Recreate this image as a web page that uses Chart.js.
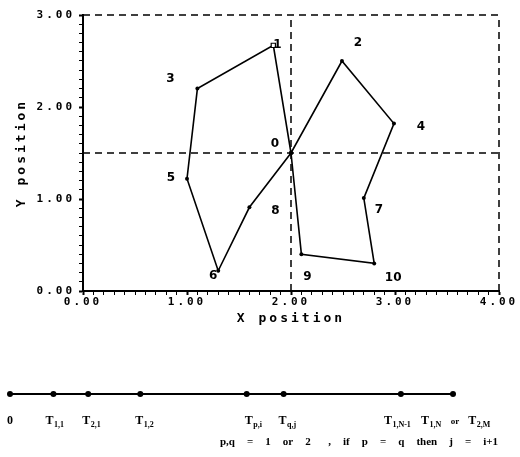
<!DOCTYPE html>
<html>
<head>
<meta charset="utf-8">
<script src="https://cdn.jsdelivr.net/npm/chart.js@4.4.0/dist/chart.umd.min.js"></script>
<style>
  html, body { margin: 0; padding: 0; background: #fff; }
  #wrap { position: relative; width: 520px; height: 457px; }
  #plot { position: absolute; left: 0; top: 0; }
  #line { position: absolute; left: 0; top: 330px; }
</style>
</head>
<body>
<div id="wrap">
  <canvas id="plot" width="520" height="330"></canvas>
  <canvas id="line" width="520" height="127"></canvas>
</div>
<script>
// vertex positions, index = vertex number
const pointX = [2.00, 1.83, 2.49, 1.10, 2.99, 1.00, 1.30, 2.70, 1.60, 2.10, 2.80];
const pointY = [1.50, 2.67, 2.50, 2.20, 1.82, 1.22, 0.22, 1.01, 0.91, 0.40, 0.30];
const pointNames = ["0", "1", "2", "3", "4", "5", "6", "7", "8", "9", "10"];
// order in which the path visits the vertices
const pathOrder = [0, 1, 3, 5, 6, 8, 0, 2, 4, 7, 10, 9, 0];

const xTicks = [0, 1, 2, 3, 4];
const yTicks = [0, 1, 2, 3];
const splitX = 2.0;
const splitY = 1.5;

// time line below the plot
const timeValues = [0, 1.0, 1.8, 3.0, 5.45, 6.3, 9.0, 10.2];
const timeLabels = [
  [["0", ""]],
  [["T", "1,1"]],
  [["T", "2,1"]],
  [["T", "1,2"]],
  [["T", "p,i"]],
  [["T", "q,j"]],
  [["T", "1,N-1"]],
  [["T", "1,N"], ["or", ""], ["T", "2,M"]]
];
const timeCaption = ["p,q", "=", "1", "or", "2", "  ,", "if", "p", "=", "q", "then", "j", "=", "i+1"];

// label placement (pixels)
const nameShift = [[-16, -9], [4, 0], [16, -18], [-27, -10], [27, 3], [-16, -1],
                   [-5, 5], [15, 12], [26, 4], [6, 23], [19, 14]];
const timeShift = [-3, -8, -6, -5, -2, -5, -17, -32];

const xMin = xTicks[0], xMax = xTicks[xTicks.length - 1];
const yMin = yTicks[0], yMax = yTicks[yTicks.length - 1];
const isMajor = (list, v) => list.some(t => Math.abs(t - v) < 1e-6);

const pathData = pathOrder.map(i => ({ x: pointX[i], y: pointY[i] }));

const dash = {
  showLine: true,
  borderColor: "#000",
  borderWidth: 1.5,
  borderDash: [7, 5],
  pointRadius: 0,
  clip: false
};

const axisFont = { family: "DejaVu Sans Mono", size: 11, weight: "bold" };
const titleFont = { family: "DejaVu Sans Mono", size: 13, weight: "bold" };

const spacing = {
  id: "spacing",
  beforeDraw(chart) { chart.ctx.letterSpacing = "3px"; },
  afterDraw(chart) { chart.ctx.letterSpacing = "0px"; }
};

const pointNumbers = {
  id: "pointNumbers",
  afterDatasetsDraw(chart) {
    const ctx = chart.ctx;
    const xs = chart.scales.x, ys = chart.scales.y;
    ctx.save();
    ctx.letterSpacing = "0px";
    ctx.fillStyle = "#000";
    ctx.font = 'bold 12px "DejaVu Sans"';
    ctx.textAlign = "center";
    ctx.textBaseline = "middle";
    pointNames.forEach((name, i) => {
      const px = xs.getPixelForValue(pointX[i]) + nameShift[i][0];
      const py = ys.getPixelForValue(pointY[i]) + nameShift[i][1];
      ctx.fillText(name, px, py);
    });
    ctx.restore();
  }
};

new Chart(document.getElementById("plot"), {
  type: "scatter",
  data: {
    datasets: [
      {
        data: pathData,
        showLine: true,
        borderColor: "#000",
        borderWidth: 1.6,
        pointRadius: c => (pathOrder[c.dataIndex] === 1 ? 3 : 2),
        pointStyle: c => (pathOrder[c.dataIndex] === 1 ? "rect" : "circle"),
        pointBackgroundColor: c => (pathOrder[c.dataIndex] === 1 ? "#fff" : "#000"),
        pointBorderColor: "#000",
        pointBorderWidth: c => (pathOrder[c.dataIndex] === 1 ? 1.2 : 0),
        clip: false
      },
      Object.assign({ data: [{ x: xMin, y: splitY }, { x: xMax, y: splitY }] }, dash),
      Object.assign({ data: [{ x: splitX, y: yMin }, { x: splitX, y: yMax }] }, dash),
      Object.assign({ data: [{ x: xMin, y: yMax }, { x: xMax, y: yMax }] }, dash),
      Object.assign({ data: [{ x: xMax, y: yMin }, { x: xMax, y: yMax }] }, dash)
    ]
  },
  options: {
    responsive: false,
    animation: false,
    events: [],
    layout: { padding: { top: 15, right: 21, bottom: 0, left: 0 } },
    plugins: { legend: { display: false }, tooltip: { enabled: false } },
    scales: {
      x: {
        type: "linear",
        min: xMin,
        max: xMax,
        border: { display: true, color: "#000", width: 2 },
        grid: {
          display: true,
          drawOnChartArea: false,
          drawTicks: true,
          tickLength: 4,
          tickColor: "#000",
          tickWidth: c => (isMajor(xTicks, c.tick.value) ? 2 : 1)
        },
        ticks: {
          stepSize: 0.1,
          autoSkip: false,
          maxRotation: 0,
          padding: 1,
          color: "#000",
          font: axisFont,
          callback: v => (isMajor(xTicks, v) ? v.toFixed(2) : "")
        },
        title: {
          display: true,
          text: "X position",
          color: "#000",
          font: titleFont,
          padding: { top: 0, bottom: 4 }
        },
        afterFit: s => { s.height = 39; }
      },
      y: {
        type: "linear",
        min: yMin,
        max: yMax,
        border: { display: true, color: "#000", width: 2 },
        grid: {
          display: true,
          drawOnChartArea: false,
          drawTicks: true,
          tickLength: 4,
          tickColor: "#000",
          tickWidth: c => (isMajor(yTicks, c.tick.value) ? 2 : 1)
        },
        ticks: {
          stepSize: 0.1,
          autoSkip: false,
          padding: 4,
          color: "#000",
          font: axisFont,
          callback: v => (isMajor(yTicks, v) ? v.toFixed(2) : "")
        },
        title: {
          display: true,
          text: "Y position",
          color: "#000",
          font: titleFont,
          padding: { top: 14, bottom: 0 }
        },
        afterFit: s => { s.width = 83; }
      }
    }
  },
  plugins: [spacing, pointNumbers]
});

const timelineLabels = {
  id: "timelineLabels",
  afterDraw(chart) {
    const ctx = chart.ctx;
    const xs = chart.scales.x;
    const base = 94;
    ctx.save();
    ctx.fillStyle = "#000";
    ctx.textAlign = "left";
    ctx.textBaseline = "alphabetic";
    timeLabels.forEach((parts, i) => {
      let x = xs.getPixelForValue(timeValues[i]) + timeShift[i];
      parts.forEach(([main, sub], k) => {
        if (k > 0) x += 9;
        ctx.font = main === "or" ? 'bold 9px "Liberation Serif"' : 'bold 12px "Liberation Serif"';
        ctx.fillText(main, x, base);
        x += ctx.measureText(main).width;
        if (sub) {
          ctx.font = 'bold 8px "Liberation Serif"';
          ctx.fillText(sub, x + 0.5, base + 3);
          x += ctx.measureText(sub).width + 1;
        }
      });
    });
    // caption, words spread over the same width as in the source
    ctx.font = 'bold 11px "Liberation Serif"';
    const words = timeCaption.map(t => ctx.measureText(t).width);
    const total = words.reduce((a, b) => a + b, 0);
    const gap = (278 - total) / (timeCaption.length - 1);
    let cx = 220;
    timeCaption.forEach((t, i) => {
      ctx.fillText(t, cx, 115);
      cx += words[i] + gap;
    });
    ctx.restore();
  }
};

new Chart(document.getElementById("line"), {
  type: "scatter",
  data: {
    datasets: [{
      data: timeValues.map(t => ({ x: t, y: 0 })),
      showLine: true,
      borderColor: "#000",
      borderWidth: 2,
      pointRadius: 3,
      pointBackgroundColor: "#000",
      pointBorderWidth: 0,
      clip: false
    }]
  },
  options: {
    responsive: false,
    animation: false,
    events: [],
    layout: { padding: { left: 10, right: 67, top: 44, bottom: 43 } },
    plugins: { legend: { display: false }, tooltip: { enabled: false } },
    scales: {
      x: { display: false, min: timeValues[0], max: timeValues[timeValues.length - 1] },
      y: { display: false, min: -1, max: 1 }
    }
  },
  plugins: [timelineLabels]
});
</script>
</body>
</html>
